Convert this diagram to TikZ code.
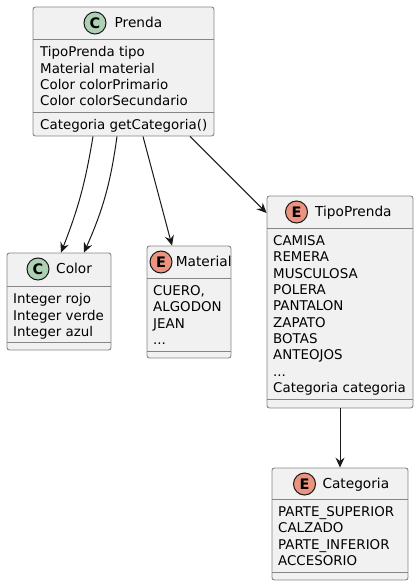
\documentclass[tikz,border=0pt]{standalone}
\usepackage{fontspec}
\setmainfont{DejaVu Sans}
\usetikzlibrary{arrows.meta}

\definecolor{umlfill}{HTML}{F1F1F1}
\definecolor{umlline}{HTML}{181818}
\definecolor{umlborder}{HTML}{858585}
\definecolor{classicon}{HTML}{ADD1B2}
\definecolor{enumicon}{HTML}{EB937F}

\begin{document}
\begin{tikzpicture}[x=1pt,y=-1pt,
    box/.style={draw=umlborder,fill=umlfill,line width=0.9pt,rounded corners=2.5pt,inner sep=0pt},
    sepline/.style={draw=umlborder,line width=0.9pt},
    icon/.style={circle,draw=umlline,line width=1pt,minimum size=22pt,inner sep=0pt,font=\fontsize{14.5}{14.5}\selectfont\bfseries},
    title/.style={anchor=base west,inner sep=0pt,font=\fontsize{13.7}{16}\selectfont},
    members/.style={anchor=north west,inner sep=0pt,align=left,font=\fontsize{13.4}{16.3}\selectfont},
    assoc/.style={draw=umlline,line width=1pt,-{Stealth[length=10pt,width=9pt,inset=3.5pt]}}]

    \useasboundingbox (0,0) rectangle (419,586);

    % Prenda
    \node[box,minimum width=181pt,minimum height=129pt] (prenda) at (123.5,71.5) {};
    \node[icon,fill=classicon] (prendaicon) at (95,23) {C};
    \node[title] (prendaname) at (114.5,27.8) {Prenda};
    \draw[sepline] (prenda.west |- 0,39) -- (prenda.east |- 0,39);
    \node[members] (prendaattr) at (40,46.5) {TipoPrenda tipo\\Material material\\Color colorPrimario\\Color colorSecundario};
    \draw[sepline] (prenda.west |- 0,112) -- (prenda.east |- 0,112);
    \node[members] (prendameth) at (40,119) {Categoria getCategoria()};

    % Color
    \node[box,minimum width=104pt,minimum height=97pt] (color) at (59,301.5) {};
    \node[icon,fill=classicon] (coloricon) at (38,269) {C};
    \node[title] (colorname) at (56,273.8) {Color};
    \draw[sepline] (color.west |- 0,286) -- (color.east |- 0,286);
    \node[members] (colorattr) at (13,293.5) {Integer rojo\\Integer verde\\Integer azul};
    \draw[sepline] (color.west |- 0,342) -- (color.east |- 0,342);

    % Material
    \node[box,minimum width=84pt,minimum height=112pt] (material) at (189,302) {};
    \node[icon,fill=enumicon] (materialicon) at (161,262) {E};
    \node[title] (materialname) at (175.7,266.8) {Material};
    \draw[sepline] (material.west |- 0,278) -- (material.east |- 0,278);
    \node[members] (materialattr) at (153,285.5) {CUERO,\\ALGODON\\JEAN\\...};
    \draw[sepline] (material.west |- 0,351) -- (material.east |- 0,351);

    % TipoPrenda
    \node[box,minimum width=146pt,minimum height=212pt] (tipoprenda) at (340,302) {};
    \node[icon,fill=enumicon] (tipoprendaicon) at (296.5,212) {E};
    \node[title] (tipoprendaname) at (315,216.8) {TipoPrenda};
    \draw[sepline] (tipoprenda.west |- 0,228) -- (tipoprenda.east |- 0,228);
    \node[members] (tipoprendaattr) at (273,235.5) {CAMISA\\REMERA\\MUSCULOSA\\POLERA\\PANTALON\\ZAPATO\\BOTAS\\ANTEOJOS\\...\\Categoria categoria};
    \draw[sepline] (tipoprenda.west |- 0,399) -- (tipoprenda.east |- 0,399);

    % Categoria
    \node[box,minimum width=136pt,minimum height=112pt] (categoria) at (340,524) {};
    \node[icon,fill=enumicon] (categoriaicon) at (304.5,484) {E};
    \node[title] (categorianame) at (322.3,488.8) {Categoria};
    \draw[sepline] (categoria.west |- 0,499) -- (categoria.east |- 0,499);
    \node[members] (categoriaattr) at (278,506.5) {PARTE\_SUPERIOR\\CALZADO\\PARTE\_INFERIOR\\ACCESORIO};
    \draw[sepline] (categoria.west |- 0,572) -- (categoria.east |- 0,572);

    % Associations
    \draw[assoc] ([xshift=-30.5pt]prenda.south) to[bend left=6] ([xshift=2pt]color.north);
    \draw[assoc] ([xshift=-6.5pt]prenda.south) to[bend left=8] ([xshift=25pt]color.north);
    \draw[assoc] ([xshift=19.5pt]prenda.south) -- ([xshift=-17pt]material.north);
    \draw[assoc] ([xshift=66.5pt]prenda.south) -- ([yshift=89pt]tipoprenda.west);
    \draw[assoc] (tipoprenda.south) -- (categoria.north);
\end{tikzpicture}
\end{document}
